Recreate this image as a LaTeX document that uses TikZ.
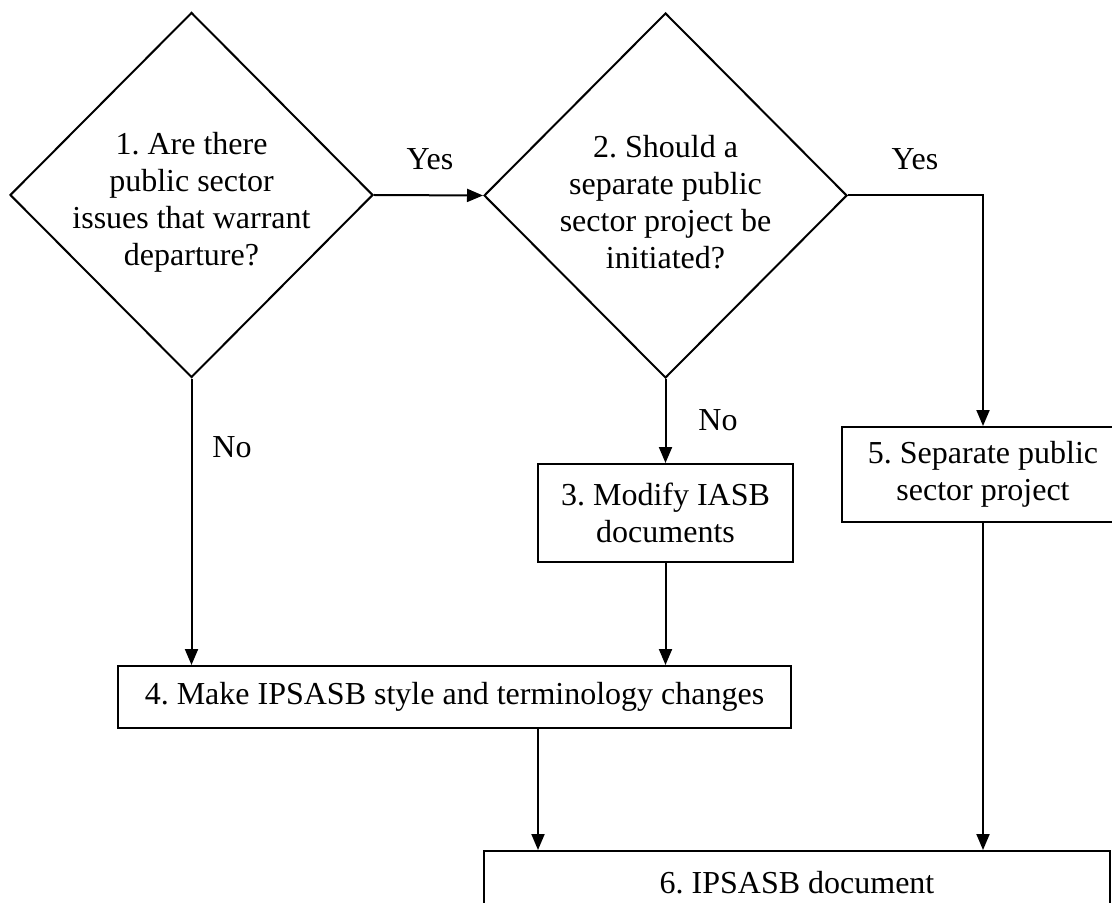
\documentclass[tikz,border=0pt]{standalone}
\usepackage{fontspec}
\setmainfont{Liberation Serif}
\usetikzlibrary{shapes.geometric,arrows.meta}
\frenchspacing

\begin{document}
\begin{tikzpicture}[
		x=0.5pt, y=-0.5pt,
		font=\fontsize{16}{18.5}\selectfont,
		line width=1pt,
		>={Triangle[length=8pt,width=6.5pt]},
		decision/.style={diamond,draw,inner sep=0pt,minimum width=181.5pt,minimum height=182.5pt},
		qtext/.style={align=center,inner sep=0pt},
		process/.style={rectangle,draw,align=center,inner sep=0pt},
		lbl/.style={anchor=base,inner sep=0pt}
		]
		\useasboundingbox (0,0) rectangle (1112,903);
		\node[decision] (q1) at (191.5,195) {};
		\node[qtext] (q1t) at (191.5,202) {1. Are there\\public sector\\issues that warrant\\departure?};
		\node[decision] (q2) at (665.5,195.5) {};
		\node[qtext] (q2t) at (665.5,202) {2. Should a\\separate public\\sector project be\\initiated?};
		\node[process,minimum width=127.5pt,minimum height=49pt] (b3) at (665.5,513) {3. Modify IASB\\documents};
		\node[process,minimum width=336.5pt,minimum height=31pt] (b4) at (454.5,697) {4. Make IPSASB style and terminology changes};
		\node[process,minimum width=141pt,minimum height=47.5pt] (b5) at (983,474.5) {5. Separate public\\sector project};
		\node[process,minimum width=313pt,minimum height=32pt] (b6) at (797,883) {6. IPSASB document};

		\draw[->] (q1.east) -- (q2.west);
		\draw[->] (q2.east) -| (b5.north);
		\draw[->] (q2.south) -- (b3.north);
		\draw[->] (q1.south) -- (q1.south |- b4.north);
		\draw[->] (b3.south) -- (b3.south |- b4.north);
		\draw[->] ([xshift=41.75pt]b4.south) -- ([xshift=41.75pt]b4.south |- b6.north);
		\draw[->] (b5.south) -- (b5.south |- b6.north);

		\node[lbl] (yes1) at (430,170) {Yes};
		\node[lbl] (yes2) at (915,170) {Yes};
		\node[lbl] (no1) at (232,457) {No};
		\node[lbl] (no2) at (718,430) {No};
	\end{tikzpicture}
\end{document}
